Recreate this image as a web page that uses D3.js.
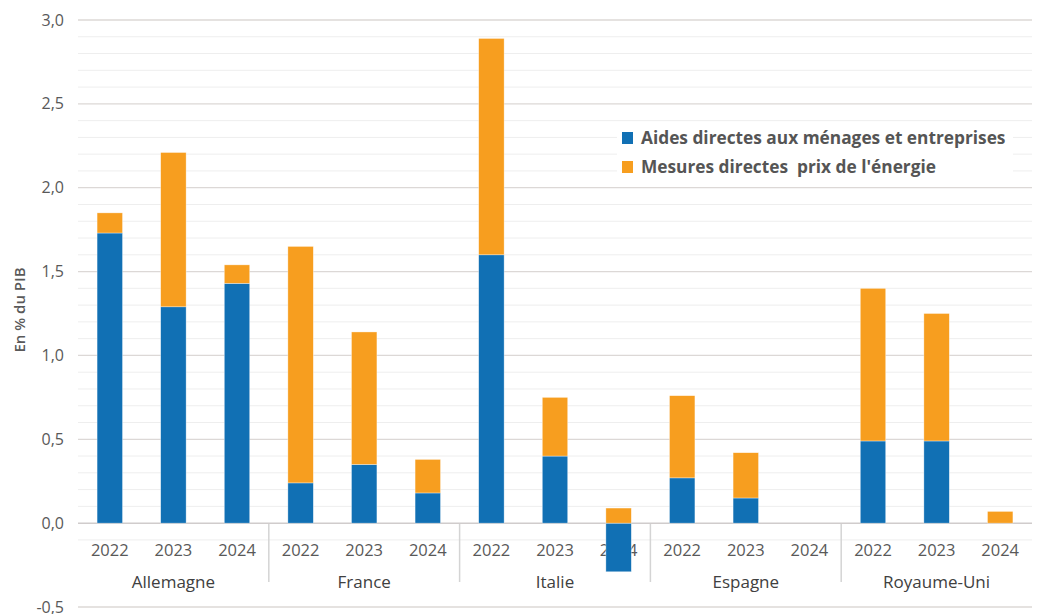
<!DOCTYPE html>
<html><head><meta charset="utf-8">
<script src="https://cdn.jsdelivr.net/npm/d3@7"></script>
<style>
body{margin:0;background:#fff;}
svg{display:block;font-family:"Open Sans",sans-serif;}
</style></head>
<body><svg id="c" width="1039" height="614"></svg>
<script>
const countries = ["Allemagne","France","Italie","Espagne","Royaume-Uni"];
const years = ["2022","2023","2024"];
const seriesNames = ["Aides directes aux ménages et entreprises","Mesures directes  prix de l'énergie"];
// per country, per year
const aides = [1.73,1.29,1.43, 0.24,0.35,0.18, 1.60,0.40,-0.29, 0.27,0.15,0, 0.49,0.49,0];
const prix  = [0.12,0.92,0.11, 1.41,0.79,0.20, 1.29,0.35,0.09, 0.49,0.27,0, 0.91,0.76,0.07];
const yTickLabels = ["-0,5","0,0","0,5","1,0","1,5","2,0","2,5","3,0"];
const yTickValues = [-0.5,0,0.5,1,1.5,2,2.5,3];
const colors = ["#1170b4","#f79e1f"];

const svg = d3.select("#c");
const L=78, R=1032, T=20, B=607;
const y = d3.scaleLinear().domain([-0.5,3]).range([B,T]);
const rows = [];
countries.forEach((c,i)=>years.forEach((yr,j)=>{
  const k=i*3+j; rows.push({key:c+"|"+yr,country:c,year:yr,a:aides[k],p:prix[k]});
}));
const x = d3.scaleBand().domain(rows.map(r=>r.key)).range([L,R]).paddingInner(0.6).paddingOuter(0.3);

// minor gridlines
const minor = d3.range(-1,30).map(v=>v/10).filter(v=>Math.round(v*10)%5!==0);
svg.append("g").selectAll("line").data(minor).join("line")
  .attr("x1",L).attr("x2",R).attr("y1",d=>y(d)).attr("y2",d=>y(d))
  .attr("stroke","#eeeeee").attr("stroke-width",1);
// major gridlines
svg.append("g").selectAll("line").data(yTickValues.filter(v=>v!==0)).join("line")
  .attr("x1",L).attr("x2",R).attr("y1",d=>y(d)).attr("y2",d=>y(d))
  .attr("stroke","#dcd8d6").attr("stroke-width",1.3);

// y tick labels
svg.append("g").selectAll("text").data(yTickValues).join("text")
  .attr("x",64).attr("y",d=>y(d)).attr("dy","0.35em").attr("text-anchor","end")
  .attr("font-size",16).attr("fill","#595959")
  .text((d,i)=>yTickLabels[i]);

// y title
svg.append("text").attr("transform",`translate(25,310) rotate(-90)`)
  .attr("text-anchor","middle").attr("font-size",15).attr("font-weight",600).attr("fill","#595959")
  .text("En % du PIB");

// year labels
svg.append("g").selectAll("text").data(rows).join("text")
  .attr("x",d=>x(d.key)+x.bandwidth()/2).attr("y",556).attr("text-anchor","middle")
  .attr("font-size",16.5).attr("fill","#595959").text(d=>d.year);
// group labels
const step = x.step();
svg.append("g").selectAll("text").data(countries).join("text")
  .attr("x",(d,i)=>L+step*(i*3+1.5)).attr("y",588).attr("text-anchor","middle")
  .attr("font-size",17).attr("font-weight",500).attr("fill","#404040").text(d=>d);
// separators
svg.append("g").selectAll("line").data(d3.range(1,countries.length)).join("line")
  .attr("x1",d=>L+step*3*d).attr("x2",d=>L+step*3*d).attr("y1",y(0)).attr("y2",582)
  .attr("stroke","#d4d4d4").attr("stroke-width",1.5);

// zero axis
svg.append("line").attr("x1",L).attr("x2",R).attr("y1",y(0)).attr("y2",y(0))
  .attr("stroke","#d0cccc").attr("stroke-width",1.5);

// bars
const stack = d3.stack().keys(["a","p"]).offset(d3.stackOffsetDiverging);
const st = stack(rows);
st.forEach((s,si)=>{
  svg.append("g").attr("fill",colors[si]).selectAll("rect").data(s).join("rect")
    .attr("x",d=>x(d.data.key)).attr("width",x.bandwidth())
    .attr("y",d=>y(Math.max(d[0],d[1]))).attr("height",d=>Math.abs(y(d[0])-y(d[1])))
    .attr("stroke","#fff").attr("stroke-width",0.6).attr("stroke-opacity",0.6);
});

// legend
svg.append("rect").attr("x",617).attr("y",123).attr("width",396).attr("height",63).attr("fill","#fff");
const lg = svg.append("g");
seriesNames.forEach((n,i)=>{
  lg.append("rect").attr("x",622).attr("y",132+i*29).attr("width",11).attr("height",12).attr("fill",colors[i]);
  lg.append("text").attr("x",641).attr("y",144+i*29).attr("font-size",17.3).attr("font-weight",700)
    .attr("fill","#555").style("white-space","pre").text(n);
});
</script></body></html>
